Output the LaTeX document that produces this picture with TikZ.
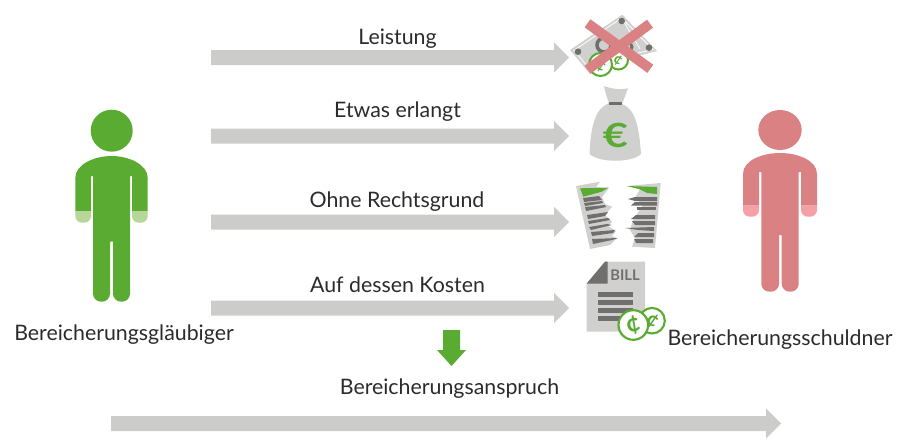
\documentclass[tikz,border=0pt]{standalone}
\usepackage{fontspec}
\setmainfont{Lato}
\definecolor{gr}{HTML}{5AAB32}
\definecolor{lgr}{HTML}{B6D69A}
\definecolor{rd}{HTML}{DA8184}
\definecolor{lrd}{HTML}{F4A0A6}
\definecolor{arr}{HTML}{CCCCCB}
\definecolor{pap}{HTML}{D0D0CE}
\definecolor{drk}{HTML}{706F6E}
\definecolor{txt}{HTML}{2B2B2B}
\tikzset{lab/.style={font=\fontsize{16}{18}\selectfont,text=txt,anchor=base,inner sep=0pt},
 barc/.style={fill=arr},
 line/.style={fill=drk},
 coin/.style={draw=gr,fill=white,line width=1.5pt},
 coinmark/.style={inner sep=0,text=gr,transform shape}}
\newcommand{\blockarrow}[3]{% x0, y centre, x tip
 \fill[barc] (#1,#2-7.5) -- ({#3-15},#2-7.5) -- ({#3-15},#2-15) -- (#3,#2) -- ({#3-15},#2+15) -- ({#3-15},#2+7.5) -- (#1,#2+7.5) -- cycle;}
\begin{document}
\begin{tikzpicture}[x=0.75pt,y=-0.75pt]
\useasboundingbox (0,0) rectangle (902,439);
% arrows
\blockarrow{211}{57.5}{569}
\blockarrow{211}{136}{569}
\blockarrow{211}{222}{569}
\blockarrow{211}{308}{569}
\blockarrow{111}{423.5}{781}
\fill[gr] (443,330) -- (460,330) -- (460,350) -- (466,350) -- (451.5,366) -- (437,350) -- (443,350) -- cycle;
% labels
\node[lab] (l1) at (397.5,44) {Leistung};
\node[lab] (l2) at (397.5,117.5) {Etwas erlangt};
\node[lab] (l3) at (397,207.5) {Ohne Rechtsgrund};
\node[lab] (l4) at (397.5,292) {Auf dessen Kosten};
\node[lab] (l5) at (124,340) {Bereicherungsgläubiger};
\node[lab] (l6) at (780,345) {Bereicherungsschuldner};
\node[lab] (l7) at (449.5,394) {Bereicherungsanspruch};
% green person
\fill[gr] (111.7,130.7) circle (21);
\fill[gr] (75.3,211) -- (75.3,178) .. controls (75.3,164) and (95,156) .. (111.7,156) .. controls (128,156) and (147.7,164) .. (147.7,178) -- (147.7,211) -- (132,211) -- (132,176) -- (130,176) [rounded corners=6] -- (130,301.7) -- (113,301.7) [sharp corners] -- (113,241.7) -- (110,241.7) [rounded corners=6] -- (110,301.7) -- (93,301.7) [sharp corners] -- (93,176) -- (91,176) -- (91,211) -- cycle;
\fill[lgr] (75.3,211) [rounded corners=5] -- (75.3,222.7) -- (91,222.7) [sharp corners] -- (91,211) -- cycle;
\fill[lgr] (132,211) [rounded corners=5] -- (132,222.7) -- (147.7,222.7) [sharp corners] -- (147.7,211) -- cycle;
% red person
\fill[rd] (780,130) ellipse (21.7 and 20);
\fill[rd] (743,205.7) -- (743,174) .. controls (743,160) and (763,153) .. (780,153) .. controls (797,153) and (817,160) .. (817,174) -- (817,205.7) -- (801,205.7) -- (801,172) -- (798.7,172) [rounded corners=6] -- (798.7,291.7) -- (781.7,291.7) [sharp corners] -- (781.7,235) -- (779,235) [rounded corners=6] -- (779,291.7) -- (761.3,291.7) [sharp corners] -- (761.3,172) -- (759,172) -- (759,205.7) -- cycle;
\fill[lrd] (743,205.7) [rounded corners=5] -- (743,216.7) -- (759,216.7) [sharp corners] -- (759,205.7) -- cycle;
\fill[lrd] (801,205.7) [rounded corners=5] -- (801,216.7) -- (817,216.7) [sharp corners] -- (817,205.7) -- cycle;
% money
\fill[pap] (622.3,14.7) -- (657,51) -- (630,58) -- (590,74) -- (570,50) -- cycle;
\draw[white,line width=0.6pt] (574,50.5) -- (621.5,18) -- (653,49.5) -- (630,55) -- (591,70.5) -- cycle;
\draw[white,line width=0.6pt] (621.5,18) -- (640,49);
\draw[drk,line width=2.6pt] (604,45) circle (7);
\draw[drk,line width=2.2pt] (627,47) circle (5);
\fill[drk] (578,51.7) circle (3.3) (621.7,21) circle (3.3) (649,47.7) circle (3.3);
\draw[coin] (618.5,60) circle (9.5);
\draw[coin] (600.5,64.5) circle (11.5);
\node[coinmark,rotate=-30,font=\fontsize{11}{12}\bfseries\selectfont] (m2) at (618,60) {¢};
\node[coinmark,rotate=-30,font=\fontsize{12}{12}\bfseries\selectfont] (m1) at (601,66) {¢};
\draw[rd,line width=7.5pt] (587.5,23.3) -- (650.3,68.8) (650,23.7) -- (587.5,69.7);
% bag
\fill[pap] (604,86) .. controls (612,89) and (620,90) .. (628,88.3) .. controls (626,94) and (624,99) .. (622,104) .. controls (635,109) and (639,125) .. (641,154) .. controls (632,163) and (599,163) .. (589.5,154) .. controls (591,125) and (595,109) .. (609,103) .. controls (607,98) and (605,92) .. (604,86) -- cycle;
\fill[drk] (609,101.5) -- (622,101.5) -- (622,104.5) -- (609,104.5) -- cycle;
\node[inner sep=0,text=gr,xscale=1.3,transform shape,font=\fontsize{25}{26}\bfseries\selectfont] (eur) at (615.5,135) {€};
% torn doc left
\fill[pap] (576,186) -- (600,181.7) -- (596,187) -- (609,188) -- (602,197) -- (605,204) -- (612,206.7) -- (605,215) -- (612,222) -- (608,226) -- (616,231) -- (612,236) -- (617,238.3) -- (610,245) -- (590,249) -- cycle;
\fill[gr] (580,188.3) -- (608.3,187.7) -- (601.7,191.7) -- (583.3,196.7) -- cycle;
\fill[line] (583,198) -- (599,196) -- (602,200) -- (584,202) -- cycle;
\fill[line] (584,203) -- (602,201) -- (603,203) -- (585,206) -- cycle;
\fill[line] (585,207) -- (605,205) -- (606,207) -- (586,211) -- cycle;
\fill[line] (587,215) -- (608,212) -- (605,216) -- (588,219) -- cycle;
\fill[line] (588,221) -- (608,218) -- (610,220) -- (589,224) -- cycle;
\fill[line] (589,227) -- (607,224) -- (612,225) -- (591,230) -- cycle;
\fill[line] (591,232) -- (615,230) -- (613,233) -- (592,236) -- cycle;
\fill[line] (592,239) -- (618,238) -- (612,240) -- (593,244) -- cycle;
% torn doc right
\fill[pap] (627,186) -- (660.7,183) -- (655,248) -- (632,246.7) -- (635,238) -- (630,230) -- (633,220) -- (643,205) -- (635,198) -- (640,189) -- cycle;
\fill[gr] (627,186) -- (657,187) -- (657,194) -- (647,193) -- (639,189) -- cycle;
\fill[line] (635,197) -- (657,197) -- (657,201) -- (635,201) -- (628,199) -- cycle;
\fill[line] (635,202) -- (657,202) -- (657,205.5) -- (631,205.5) -- cycle;
\fill[line] (637,207) -- (656,207) -- (656,210) -- (637,210) -- cycle;
\fill[line] (636,215) -- (655,215) -- (655,219) -- (631,219) -- cycle;
\fill[line] (632,221) -- (655,221) -- (655,225) -- (635,225) -- cycle;
\fill[line] (625,228) -- (654,227) -- (654,231) -- (638,230) -- cycle;
\fill[line] (638,233) -- (654,233) -- (654,237) -- (634,237) -- cycle;
\fill[line] (634,239) -- (653,239) -- (653,243) -- (636,243) -- cycle;
% bill
\fill[pap] (605,261.7) -- (645,261.7) -- (645,331.7) -- (586.7,331.7) -- (586.7,283.5) -- cycle;
\fill[drk] (605,261.7) -- (607.7,261.7) -- (607.7,283.5) -- (586.7,283.5) -- cycle;
\node[inner sep=0,text=drk,font=\fontsize{11}{12}\bfseries\selectfont] (bill) at (625,275) {BILL};
\fill[line] (598.3,292.3) rectangle (633.3,296.7);
\fill[line] (598.3,300.3) rectangle (633.3,304.7);
\fill[line] (598.3,308.3) rectangle (633.3,312.7);
\fill[line] (598.3,316.3) rectangle (633.3,320.7);
\draw[coin,line width=1.6pt] (652,320.7) circle (12.8);
\node[coinmark,rotate=-30,font=\fontsize{15}{16}\bfseries\selectfont] (c2) at (652.5,320.7) {¢};
\draw[coin,line width=1.6pt] (633.3,325) circle (14.8);
\node[coinmark,rotate=15,font=\fontsize{19}{20}\bfseries\selectfont] (c1) at (633.3,325) {¢};
\end{tikzpicture}
\end{document}
